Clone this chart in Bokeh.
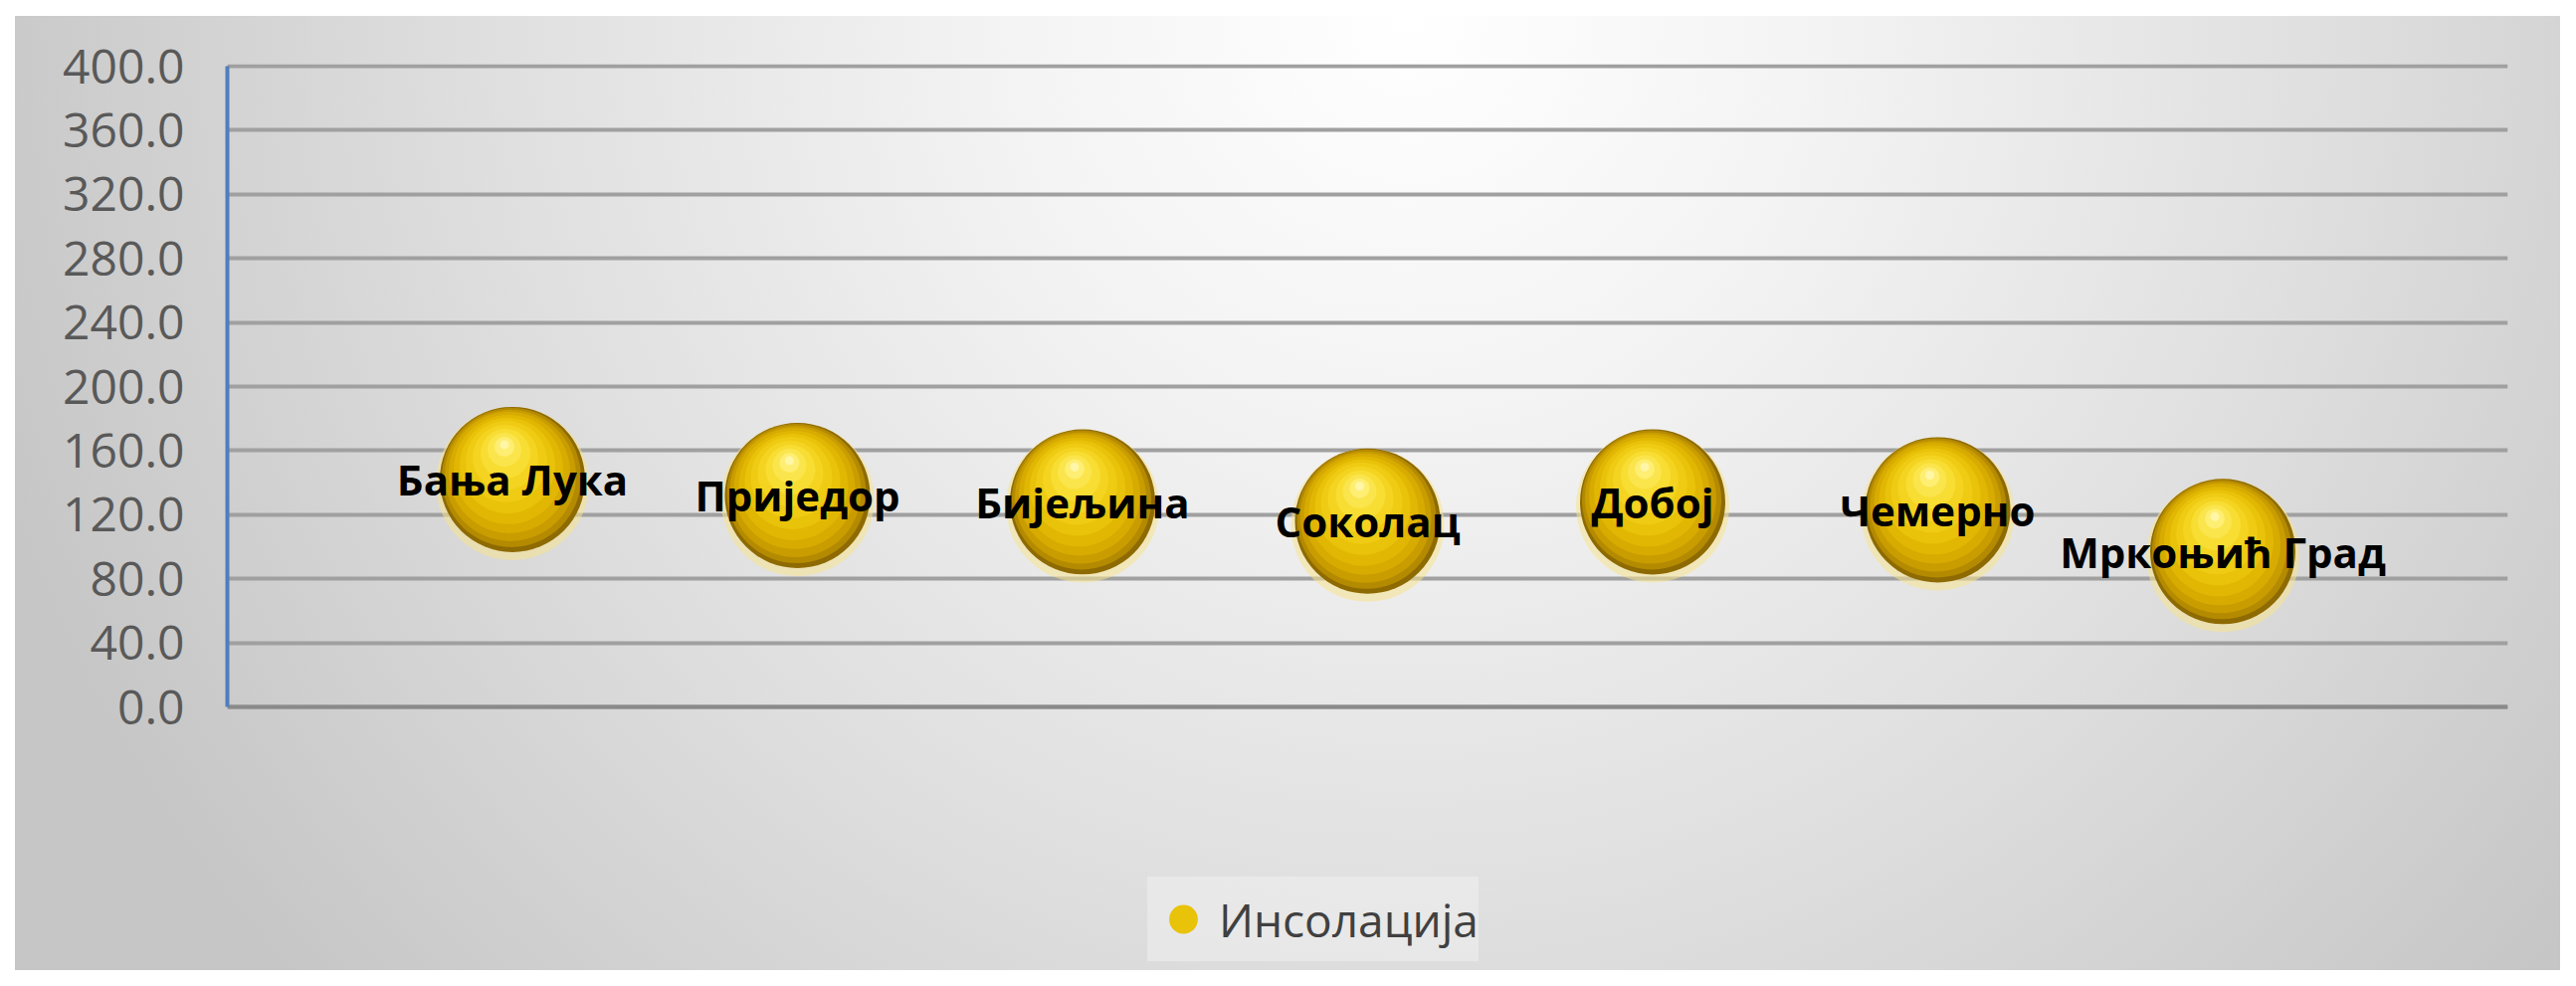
from bokeh.plotting import figure
from bokeh.models import Range1d, FixedTicker, Legend, LegendItem, ColumnDataSource, NumeralTickFormatter
from bokeh.transform import dodge
from bokeh.core.properties import value
from bokeh.embed import file_html
from bokeh.resources import INLINE

# ---- data ----
stations = ["Бања Лука", "Приједор", "Бијељина", "Соколац", "Добој", "Чемерно", "Мркоњић Град"]
positions = [1, 2, 3, 4, 5, 6, 7]
insolation = [142, 132, 128, 116, 128, 123, 97]
series_name = "Инсолација"
y_ticks = [0, 40, 80, 120, 160, 200, 240, 280, 320, 360, 400]

# ---- layout constants (screen px) ----
W, H = 2573, 975
LEFT, RIGHT, TOP, BOTTOM = 228, 53, 64, 0
FRAME_W = W - LEFT - RIGHT
FRAME_H = H - TOP - BOTTOM
Y_TOP_PX, Y_ZERO_PX = 66, 710          # where 400 and 0 sit
Y_PX = (Y_ZERO_PX - Y_TOP_PX) / 400.0   # px per data unit
X0, X1 = 0, 8
Y0 = -(H - BOTTOM - Y_ZERO_PX) / Y_PX
Y1 = 400 + (Y_TOP_PX - TOP) / Y_PX
XU = (X1 - X0) / FRAME_W   # data units per screen px
YU = 1.0 / Y_PX

src = ColumnDataSource(dict(x=positions, y=insolation, name=stations))

p = figure(width=W, height=H, output_backend="svg", toolbar_location=None,
           x_range=Range1d(X0, X1), y_range=Range1d(Y0, Y1),
           min_border_left=LEFT, min_border_right=RIGHT,
           min_border_top=TOP, min_border_bottom=BOTTOM)

p.background_fill_color = None
p.border_fill_color = None
p.outline_line_color = None
p.styles = {
    "background": ("linear-gradient(#ffffff,#ffffff) top left / 100% 16px no-repeat, "
                   "linear-gradient(#ffffff,#ffffff) top left / 15px 100% no-repeat, "
                   "radial-gradient(ellipse 58% 150% at 55% 2%, #ffffff 0%, #f3f3f3 28%, "
                   "#dfdfdf 62%, #c6c6c6 100%)")
}

# grid
p.xgrid.visible = False
p.ygrid.ticker = FixedTicker(ticks=y_ticks)
p.ygrid.grid_line_color = "#a0a0a0"
p.ygrid.grid_line_width = 4

# y axis
p.yaxis.ticker = FixedTicker(ticks=y_ticks)
p.yaxis.bounds = (0, 400)
p.yaxis.formatter = NumeralTickFormatter(format="0.0")
p.yaxis.major_label_text_font = "Open Sans"
p.yaxis.major_label_text_font_size = "48px"
p.yaxis.major_label_text_color = "#595959"
p.yaxis.major_label_standoff = 37
p.yaxis.major_tick_line_color = None
p.yaxis.minor_tick_line_color = None
p.yaxis.axis_line_color = "#4f7ebd"
p.yaxis.axis_line_width = 4

# x axis drawn at value 0 (no ticks / labels)
p.xaxis.fixed_location = 0
p.xaxis.ticker = FixedTicker(ticks=[])
p.xaxis.major_tick_line_color = None
p.xaxis.minor_tick_line_color = None
p.xaxis.major_label_text_font_size = "0px"
p.xaxis.axis_line_color = "#8a8a8a"
p.xaxis.axis_line_width = 4

# glossy gold balls (layered)
layers = [
    # diameter px, dx px, dy px (up), colour, alpha
    (154, 0, -4, "#f7e38e", 0.55),
    (146, 0, 0, "#8e6a02", 1.0),
    (140, -1, 2, "#b48a00", 1.0),
    (132, -2, 4, "#c99c00", 1.0),
    (122, -3, 7, "#d7ab00", 1.0),
    (110, -4, 10, "#e1b703", 1.0),
    (96, -5, 14, "#e9c20a", 1.0),
    (82, -6, 18, "#efcb14", 1.0),
    (66, -7, 22, "#f4d420", 1.0),
    (50, -7, 26, "#f8dd33", 1.0),
    (34, -8, 30, "#fbe54c", 1.0),
    (20, -8, 33, "#feee72", 1.0),
    (9, -8, 35, "#fff6a8", 1.0),
]
legend_r = None
for size, dx, dy, col, a in layers:
    r = p.scatter(x=dodge("x", dx * XU), y=dodge("y", dy * YU), source=src,
                  size=size, marker="circle", fill_color=col, fill_alpha=a,
                  line_color=None)
    if col == "#e9c20a":
        legend_r = r

# data labels (centered on points)
p.text(x="x", y="y", text="name", source=src,
       text_font=value("Open Sans"), text_font_size="42px", text_font_style="bold",
       text_color="#000000", text_align="center", text_baseline="middle", y_offset=0)

legend = Legend(items=[LegendItem(label=series_name, renderers=[legend_r])],
                location=(1153 - LEFT, 9), orientation="horizontal", margin=0,
                glyph_width=72, glyph_height=85, label_standoff=0, padding=4,
                label_text_font="Open Sans", label_text_font_size="46px",
                label_text_color="#404040",
                background_fill_color="#f2f2f2", background_fill_alpha=0.5,
                border_line_color=None)
p.add_layout(legend, "center")

open("out.html", "w").write(file_html(p, INLINE))
